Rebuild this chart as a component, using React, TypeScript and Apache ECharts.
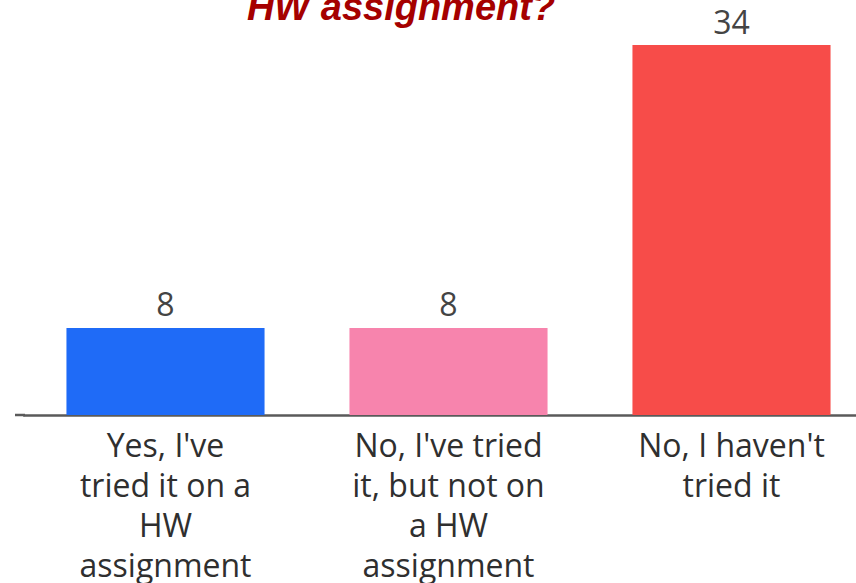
import React, { useEffect, useRef } from "react";
import * as echarts from "echarts";

const titleText = "HW assignment?";
const categories = [
  "Yes, I've\ntried it on a\nHW\nassignment",
  "No, I've tried\nit, but not on\na HW\nassignment",
  "No, I haven't\ntried it",
];
const values = [8, 8, 34];
const barColors = ["#1f6bf7", "#f784ad", "#f74c49"];

const labelFont = "'Open Sans', 'Noto Sans', sans-serif";

export default function App() {
  const ref = useRef<HTMLDivElement>(null);
  useEffect(() => {
    if (!ref.current) return;
    const chart = echarts.init(ref.current, undefined, { renderer: "svg" });
    chart.setOption({
      animation: false,
      backgroundColor: "#ffffff",
      grid: {
        left: 24,
        right: -17,
        top: 45,
        bottom: 168,
        containLabel: false,
        outerBoundsMode: "none",
      },
      xAxis: {
        type: "category",
        data: categories,
        axisTick: { show: false },
        axisLine: { show: true, lineStyle: { color: "#5a5a5a", width: 2.5 } },
        axisLabel: {
          interval: 0,
          margin: 9,
          color: "#2f2f2f",
          fontSize: 32,
          lineHeight: 40,
          fontFamily: labelFont,
          verticalAlign: "top",
        },
      },
      yAxis: {
        type: "value",
        min: 0,
        max: 34,
        show: false,
        splitLine: { show: false },
      },
      series: [
        {
          type: "bar",
          barWidth: "70%",
          data: values.map((v, i) => ({ value: v, itemStyle: { color: barColors[i] } })),
          label: {
            show: true,
            position: "top",
            distance: 8,
            color: "#444444",
            fontSize: 32,
            fontFamily: labelFont,
          },
        },
      ],
      graphic: [
        {
          type: "line",
          shape: { x1: 15, y1: 415, x2: 25, y2: 415 },
          style: { stroke: "#5a5a5a", lineWidth: 2.5 },
        },
        {
          type: "text",
          x: 401,
          y: 7,
          style: {
            text: titleText,
            fill: "#a50000",
            font: "italic bold 38px 'Liberation Sans', Arial, sans-serif",
            align: "center",
            verticalAlign: "middle",
          },
        },
      ],
    });
    return () => chart.dispose();
  }, []);
  return (
    <div
      ref={ref}
      style={{ position: "absolute", left: 0, top: 0, width: 856, height: 583 }}
    />
  );
}
